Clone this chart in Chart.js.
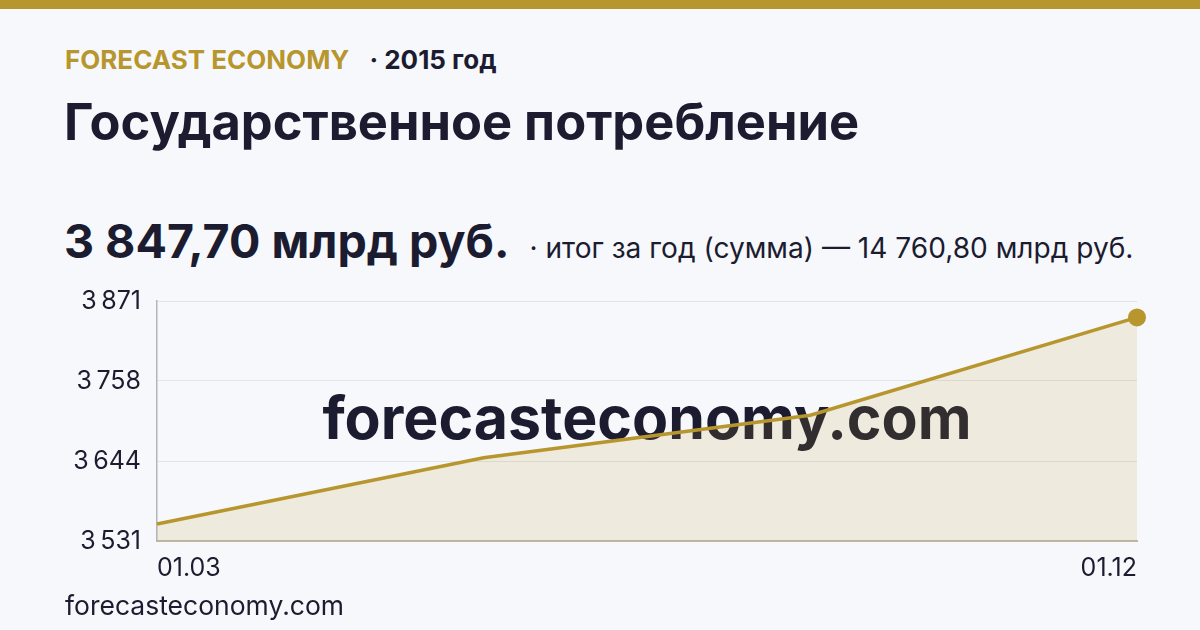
<!DOCTYPE html>
<html>
<head>
<meta charset="utf-8">
<script src="https://cdn.jsdelivr.net/npm/chart.js@4.4.0/dist/chart.umd.min.js"></script>
<style>
  html, body { margin: 0; padding: 0; }
  body { width: 1200px; height: 630px; background: #f7f8fc; position: relative; overflow: hidden; font-family: Inter, "Noto Sans", sans-serif; color: #1c1c30; }
  .topbar { position: absolute; left: 0; top: 0; width: 1200px; height: 9px; background: #b8962e; }
  .brand { position: absolute; left: 65px; top: 44px; font-size: 26px; font-weight: 700; white-space: nowrap; line-height: 32px; }
  .brand .gold { color: #b8962e; }
  .brand .year { color: #1c1c30; margin-left: 20px; }
  .title { position: absolute; left: 64px; top: 90px; font-size: 50.6px; font-weight: 700; white-space: nowrap; line-height: 64px; }
  .value { position: absolute; left: 64px; top: 213px; white-space: nowrap; line-height: 56px; }
  .value .big { font-size: 46.6px; font-weight: 700; }
  .value .sub { font-size: 28.1px; font-weight: 400; margin-left: 20px; }
  .footer { position: absolute; left: 65px; top: 588px; font-size: 26.5px; white-space: nowrap; line-height: 34px; }
  .chartwrap { position: absolute; left: 40px; top: 270px; width: 1120px; height: 320px; }
</style>
</head>
<body>
<div class="topbar"></div>
<div class="brand"><span class="gold">FORECAST ECONOMY</span><span class="year">· 2015 год</span></div>
<div class="title">Государственное потребление</div>
<div class="value"><span class="big">3 847,70 млрд руб.</span><span class="sub">· итог за год (сумма) — 14 760,80 млрд руб.</span></div>
<div class="chartwrap"><canvas id="c"></canvas></div>
<div class="footer">forecasteconomy.com</div>
<script>
const categories = ["01.03", "01.06", "01.09", "01.12"];
const values = [3555.0, 3649.0, 3709.1, 3847.7];
const yTicks = [3531, 3644.33, 3757.67, 3871];
const watermarkText = "forecasteconomy.com";

const GOLD = "#b8962e";
const DARK = "#1c1c30";

function fmt(v) {
  const n = Math.round(v).toString();
  return n.replace(/\B(?=(\d{3})+(?!\d))/g, "\u2009");
}

const watermark = {
  id: "watermark",
  beforeDatasetsDraw(chart) {
    const { ctx, chartArea } = chart;
    ctx.save();
    ctx.font = "700 59px Inter";
    ctx.fillStyle = DARK;
    ctx.textAlign = "center";
    ctx.textBaseline = "middle";
    ctx.fillText(watermarkText, (chartArea.left + chartArea.right) / 2, (chartArea.top + chartArea.bottom) / 2);
    ctx.restore();
  }
};

new Chart(document.getElementById("c"), {
  type: "line",
  data: {
    labels: categories,
    datasets: [{
      data: values,
      borderColor: GOLD,
      borderWidth: 3.5,
      backgroundColor: "rgba(184,150,46,0.14)",
      fill: "start",
      tension: 0,
      pointRadius: values.map((v, i) => i === values.length - 1 ? 9 : 0),
      pointBackgroundColor: GOLD,
      pointBorderWidth: 0,
      pointHoverRadius: 0
    }]
  },
  options: {
    responsive: true,
    maintainAspectRatio: false,
    animation: false,
    layout: { padding: { top: 0, right: 23, left: 0, bottom: 0 } },
    plugins: { legend: { display: false }, tooltip: { enabled: false } },
    scales: {
      x: {
        grid: { display: false, drawTicks: false },
        border: { display: true, color: "#bdb8aa", width: 2 },
        ticks: {
          color: DARK,
          font: { family: "Inter", size: 25 },
          align: "inner",
          maxRotation: 0,
          autoSkip: false,
          padding: 12,
          callback: function(v, i) { return (i === 0 || i === categories.length - 1) ? categories[i] : ""; }
        },
        afterFit(s) { s.height = 49; }
      },
      y: {
        min: 3531,
        max: 3871,
        afterBuildTicks(s) { s.ticks = yTicks.map(v => ({ value: v })); },
        grid: { color: "#e3e4ea", drawTicks: false, lineWidth: 1 },
        border: { display: true, color: "#b5b5b8", width: 1.5 },
        ticks: {
          color: DARK,
          font: { family: "Inter", size: 25 },
          padding: 16,
          callback: v => fmt(v)
        },
        afterFit(s) { s.width = 117; }
      }
    }
  },
  plugins: [watermark]
});
</script>
</body>
</html>
